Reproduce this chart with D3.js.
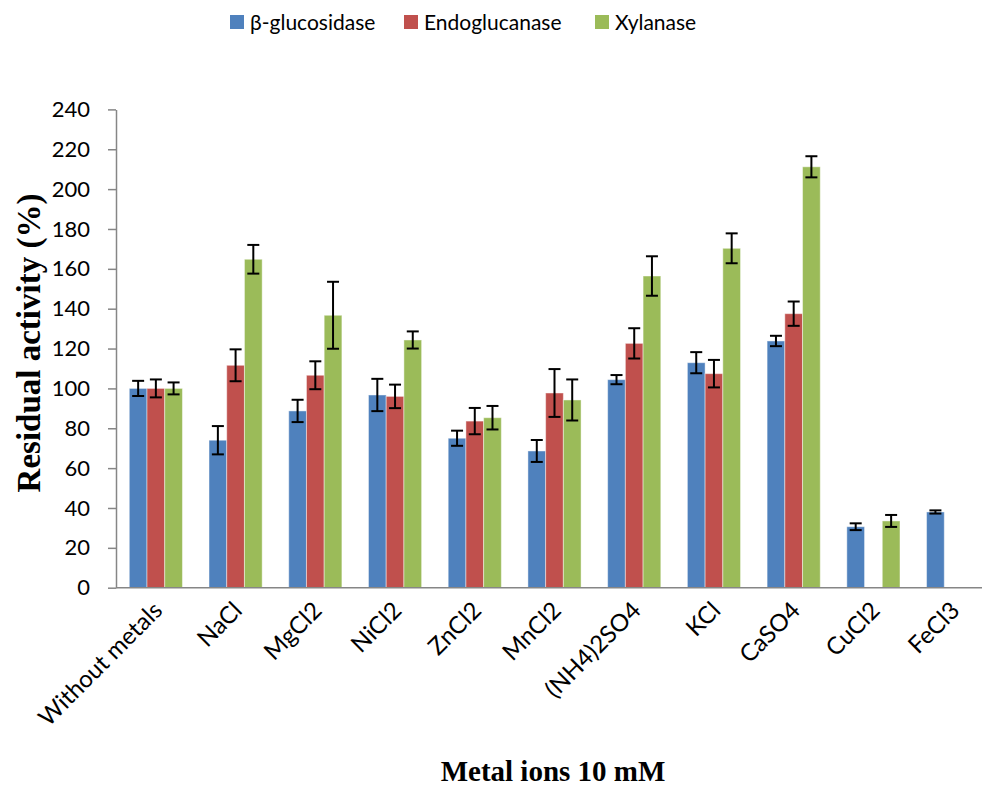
<!DOCTYPE html>
<html>
<head>
<meta charset="utf-8">
<script src="https://cdn.jsdelivr.net/npm/d3@7"></script>
<style>
  body { margin: 0; background: #fff; }
  svg { display: block; }
</style>
</head>
<body>
<div id="chart"></div>
<script>
// data
var categories = ["Without metals", "NaCl", "MgCl2", "NiCl2", "ZnCl2", "MnCl2", "(NH4)2SO4", "KCl", "CaSO4", "CuCl2", "FeCl3"];
var seriesNames = ["β-glucosidase", "Endoglucanase", "Xylanase"];
var glucosidase = [100, 74, 88.7, 96.7, 75, 68.6, 104.4, 112.9, 123.8, 30.6, 38];
var glucosidaseErr = [3.8, 7.1, 5.6, 8.1, 3.8, 5.5, 2.3, 5.3, 2.6, 1.7, 0.8];
var endoglucanase = [100, 111.6, 106.6, 96, 83.6, 97.7, 122.6, 107.4, 137.5, null, null];
var endoglucanaseErr = [4.5, 8, 7, 5.9, 6.6, 12, 7.6, 6.9, 6.1, null, null];
var xylanase = [100, 164.8, 136.7, 124.3, 85.3, 94.2, 156.4, 170.3, 211.2, 33.5, null];
var xylanaseErr = [3, 7.2, 16.8, 4.3, 5.9, 10.3, 9.9, 7.5, 5.3, 3, null];
var yTicks = [0, 20, 40, 60, 80, 100, 120, 140, 160, 180, 200, 220, 240];

var colors = ["#4F81BD", "#C0504D", "#9BBB59"];
var values = [glucosidase, endoglucanase, xylanase];
var errors = [glucosidaseErr, endoglucanaseErr, xylanaseErr];

var W = 982, H = 786;
var mLeft = 116, mRight = 993, mTop = 109.4, mBottom = 587.7;

var svg = d3.select("#chart").append("svg")
  .attr("width", W).attr("height", H);

var x = d3.scaleBand().domain(categories).range([mLeft, mRight])
  .paddingInner(1 / 3).paddingOuter(1 / 6);
var xs = d3.scaleBand().domain(seriesNames).range([0, x.bandwidth()]);
var y = d3.scaleLinear().domain([0, 240]).range([mBottom, mTop]);

// bars
var rows = [];
seriesNames.forEach(function (s, si) {
  categories.forEach(function (c, ci) {
    if (values[si][ci] != null)
      rows.push({ cat: c, series: s, si: si, v: values[si][ci], e: errors[si][ci] });
  });
});

svg.append("g").selectAll("rect")
  .data(rows).enter()
  .append("rect")
  .attr("x", function (d) { return x(d.cat) + xs(d.series); })
  .attr("y", function (d) { return y(d.v); })
  .attr("width", xs.bandwidth())
  .attr("height", function (d) { return y(0) - y(d.v); })
  .attr("fill", function (d) { return colors[d.si]; })
  .attr("stroke", "rgba(255,255,255,0.45)")
  .attr("stroke-width", 1);

// error bars
var eb = svg.append("g").attr("stroke", "#000").attr("stroke-width", 2).attr("fill", "none");
rows.forEach(function (d) {
  var cx = x(d.cat) + xs(d.series) + xs.bandwidth() / 2;
  var y1 = y(d.v + d.e), y2 = y(d.v - d.e);
  eb.append("line").attr("x1", cx).attr("x2", cx).attr("y1", y1).attr("y2", y2);
  eb.append("line").attr("x1", cx - 6).attr("x2", cx + 6).attr("y1", y1).attr("y2", y1);
  eb.append("line").attr("x1", cx - 6).attr("x2", cx + 6).attr("y1", y2).attr("y2", y2);
});

// y axis
var yAxis = svg.append("g")
  .attr("transform", "translate(" + mLeft + ",0)")
  .call(d3.axisLeft(y).tickValues(yTicks).tickSize(8).tickPadding(18).tickSizeOuter(0));
yAxis.select(".domain").attr("stroke", "#868686").attr("stroke-width", 1.5);
yAxis.selectAll(".tick line").attr("stroke", "#868686").attr("stroke-width", 1.5);
yAxis.selectAll("text")
  .attr("font-family", "Lato, 'Open Sans', sans-serif")
  .attr("font-size", 22)
  .attr("fill", "#000");

// x axis baseline
svg.append("line")
  .attr("x1", mLeft).attr("x2", mRight)
  .attr("y1", mBottom).attr("y2", mBottom)
  .attr("stroke", "#868686").attr("stroke-width", 1.5);

// x labels
svg.append("g").selectAll("text")
  .data(categories).enter()
  .append("text")
  .attr("transform", function (d) {
    return "translate(" + (x(d) + x.bandwidth() / 2 + 8) + ",612) rotate(-45)";
  })
  .attr("text-anchor", "end")
  .attr("font-family", "Lato, 'Open Sans', sans-serif")
  .attr("font-size", 24)
  .attr("fill", "#000")
  .text(function (d) { return d; });

// axis titles
svg.append("text")
  .attr("x", 553).attr("y", 781)
  .attr("text-anchor", "middle")
  .attr("font-family", "'Liberation Serif', 'Times New Roman', serif")
  .attr("font-weight", "bold")
  .attr("font-size", 29)
  .text("Metal ions 10 mM");

svg.append("text")
  .attr("transform", "translate(40,343) rotate(-90)")
  .attr("text-anchor", "middle")
  .attr("font-family", "'Liberation Serif', 'Times New Roman', serif")
  .attr("font-weight", "bold")
  .attr("font-size", 33)
  .text("Residual activity (%)");

// legend
var legendX = [230, 404, 595];
var legend = svg.append("g").selectAll("g")
  .data(seriesNames).enter()
  .append("g")
  .attr("transform", function (d, i) { return "translate(" + legendX[i] + ",15)"; });
legend.append("rect")
  .attr("width", 14).attr("height", 14)
  .attr("fill", function (d, i) { return colors[i]; });
legend.append("text")
  .attr("x", 20).attr("y", 15)
  .attr("font-family", "Lato, 'Open Sans', sans-serif")
  .attr("font-size", 21)
  .attr("fill", "#000")
  .text(function (d) { return d; });
</script>
</body>
</html>
